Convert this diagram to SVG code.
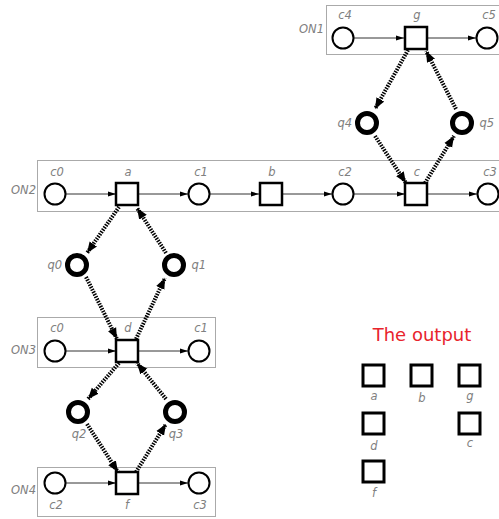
<svg xmlns="http://www.w3.org/2000/svg" width="499" height="519" viewBox="0 0 499 519">
<defs>
<style>
.box{fill:none;stroke:#aaaaaa;stroke-width:1}
.pl{fill:#fff;stroke:#000;stroke-width:2}
.qp{fill:#fff;stroke:#000;stroke-width:5}
.tr{fill:#fff;stroke:#000;stroke-width:2.5}
.out{fill:#fff;stroke:#000;stroke-width:3}
.lbl{font-family:"DejaVu Sans",sans-serif;font-size:11.5px;font-style:italic;fill:#808080;text-anchor:middle}
.on{font-family:"DejaVu Sans",sans-serif;font-size:11.5px;font-style:italic;fill:#808080;text-anchor:end}
.arc{stroke:#333;stroke-width:1;fill:none;marker-end:url(#ah)}
.dot{stroke:#000;stroke-width:4;stroke-dasharray:1.5,1.2;fill:none;marker-end:url(#dh)}
.title{font-family:"DejaVu Sans",sans-serif;font-size:18px;fill:#e8242c;text-anchor:middle}
</style>
<marker id="ah" markerUnits="userSpaceOnUse" markerWidth="8" markerHeight="6" refX="8" refY="3" orient="auto"><path d="M0,0.5 L8,3 L0,5.5 z" fill="#000"/></marker>
<marker id="dh" markerUnits="userSpaceOnUse" markerWidth="11" markerHeight="10" refX="11" refY="5" orient="auto"><path d="M0,0.5 L11,5 L0,9.5 z" fill="#000"/></marker>
</defs>
<rect width="499" height="519" fill="#fff"/>

<g id="frames">
<rect class="box" x="326.5" y="5.5" width="190" height="49"/>
<rect class="box" x="37.5" y="160.5" width="480" height="51"/>
<rect class="box" x="37.5" y="317.5" width="178" height="50"/>
<rect class="box" x="37.5" y="467.5" width="178" height="49"/>
<text class="on" x="324" y="33">ON1</text>
<text class="on" x="36" y="194">ON2</text>
<text class="on" x="36" y="354">ON3</text>
<text class="on" x="36" y="494">ON4</text>
</g>

<g id="connectors">
<line class="arc" x1="354" y1="38" x2="404" y2="38"/>
<line class="arc" x1="427" y1="38" x2="476" y2="38"/>
<line class="arc" x1="66" y1="194" x2="116" y2="194"/>
<line class="arc" x1="138" y1="194" x2="188" y2="194"/>
<line class="arc" x1="210" y1="194" x2="259" y2="194"/>
<line class="arc" x1="282" y1="194" x2="332" y2="194"/>
<line class="arc" x1="354" y1="194" x2="405" y2="194"/>
<line class="arc" x1="427" y1="194" x2="477" y2="194"/>
<line class="arc" x1="66" y1="351" x2="116" y2="351"/>
<line class="arc" x1="138" y1="351" x2="188" y2="351"/>
<line class="arc" x1="66" y1="483" x2="116" y2="483"/>
<line class="arc" x1="138" y1="483" x2="188" y2="483"/>

<line class="dot" x1="408" y1="50" x2="375" y2="109"/>
<line class="dot" x1="456" y1="109" x2="426" y2="51"/>
<line class="dot" x1="375" y1="136" x2="406" y2="183"/>
<line class="dot" x1="425" y1="183" x2="454" y2="136"/>

<line class="dot" x1="119" y1="207" x2="87" y2="253"/>
<line class="dot" x1="166" y1="253" x2="137" y2="208"/>
<line class="dot" x1="86" y1="277" x2="117" y2="339"/>
<line class="dot" x1="136" y1="339" x2="165" y2="278"/>

<line class="dot" x1="119" y1="363" x2="88" y2="399"/>
<line class="dot" x1="166" y1="399" x2="137" y2="363"/>
<line class="dot" x1="87" y1="424" x2="118" y2="472"/>
<line class="dot" x1="136" y1="472" x2="166" y2="424"/>
</g>

<g id="on1-c4"><circle class="pl" cx="343" cy="38" r="10.5"/><text class="lbl" x="345" y="19">c4</text></g>
<g id="on1-g"><rect class="tr" x="405" y="27" width="22" height="22"/><text class="lbl" x="417" y="19">g</text></g>
<g id="on1-c5"><circle class="pl" cx="487" cy="38" r="10.5"/><text class="lbl" x="489" y="19">c5</text></g>

<g id="q4"><circle class="qp" cx="367" cy="123" r="9.5"/><text class="on" x="352" y="127">q4</text></g>
<g id="q5"><circle class="qp" cx="462" cy="123" r="9.5"/><text class="on" x="494" y="127">q5</text></g>

<g id="on2-c0"><circle class="pl" cx="55" cy="194" r="10.5"/><text class="lbl" x="57" y="176">c0</text></g>
<g id="on2-a"><rect class="tr" x="116" y="183" width="22" height="22"/><text class="lbl" x="128" y="176">a</text></g>
<g id="on2-c1"><circle class="pl" cx="199" cy="194" r="10.5"/><text class="lbl" x="201" y="176">c1</text></g>
<g id="on2-b"><rect class="tr" x="260" y="183" width="22" height="22"/><text class="lbl" x="272" y="176">b</text></g>
<g id="on2-c2"><circle class="pl" cx="343" cy="194" r="10.5"/><text class="lbl" x="345" y="176">c2</text></g>
<g id="on2-c"><rect class="tr" x="405" y="183" width="22" height="22"/><text class="lbl" x="417" y="176">c</text></g>
<g id="on2-c3"><circle class="pl" cx="488" cy="194" r="10.5"/><text class="lbl" x="490" y="176">c3</text></g>

<g id="q0"><circle class="qp" cx="77" cy="265" r="9.5"/><text class="on" x="62" y="269">q0</text></g>
<g id="q1"><circle class="qp" cx="174" cy="265" r="9.5"/><text class="on" x="206" y="269">q1</text></g>

<g id="on3-c0"><circle class="pl" cx="55" cy="351" r="10.5"/><text class="lbl" x="57" y="332">c0</text></g>
<g id="on3-d"><rect class="tr" x="116" y="340" width="22" height="22"/><text class="lbl" x="128" y="332">d</text></g>
<g id="on3-c1"><circle class="pl" cx="199" cy="351" r="10.5"/><text class="lbl" x="201" y="332">c1</text></g>

<g id="q2"><circle class="qp" cx="78" cy="412" r="9.5"/><text class="lbl" x="79" y="438">q2</text></g>
<g id="q3"><circle class="qp" cx="175" cy="412" r="9.5"/><text class="lbl" x="176" y="438">q3</text></g>

<g id="on4-c2"><circle class="pl" cx="55" cy="483" r="10.5"/><text class="lbl" x="56" y="509">c2</text></g>
<g id="on4-f"><rect class="tr" x="116" y="472" width="22" height="22"/><text class="lbl" x="127" y="509">f</text></g>
<g id="on4-c3"><circle class="pl" cx="199" cy="483" r="10.5"/><text class="lbl" x="200" y="509">c3</text></g>

<g id="output">
<text class="title" x="422" y="341">The output</text>
<g id="out-a"><rect class="out" x="363" y="365" width="21" height="21"/><text class="lbl" x="374" y="400">a</text></g>
<g id="out-b"><rect class="out" x="411" y="365" width="21" height="21"/><text class="lbl" x="422" y="402">b</text></g>
<g id="out-g"><rect class="out" x="459" y="365" width="21" height="21"/><text class="lbl" x="470" y="400">g</text></g>
<g id="out-d"><rect class="out" x="363" y="413" width="21" height="21"/><text class="lbl" x="374" y="450">d</text></g>
<g id="out-c"><rect class="out" x="459" y="413" width="21" height="21"/><text class="lbl" x="470" y="447">c</text></g>
<g id="out-f"><rect class="out" x="363" y="461" width="21" height="21"/><text class="lbl" x="374" y="497">f</text></g>
</g>
</svg>
